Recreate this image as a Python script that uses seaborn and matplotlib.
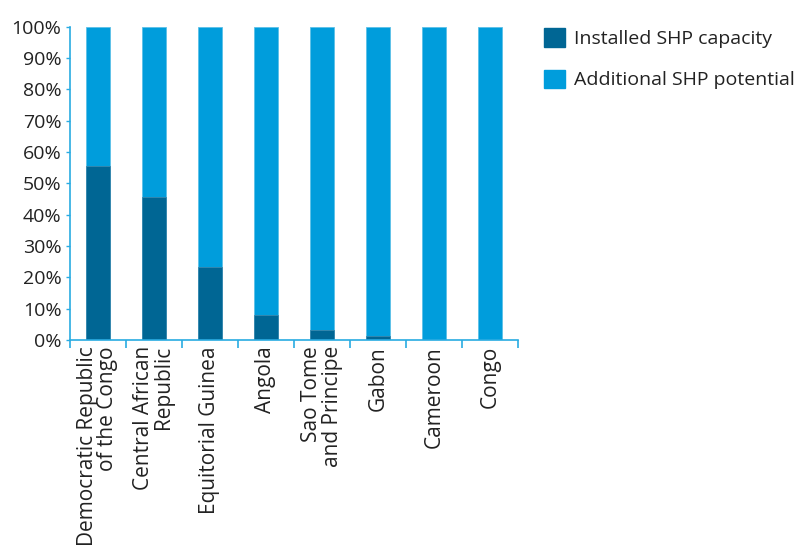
import matplotlib
matplotlib.use("Agg")
import matplotlib.pyplot as plt
import seaborn as sns
import pandas as pd
from matplotlib.patches import Patch
from matplotlib.ticker import PercentFormatter

countries = ["Democratic Republic\nof the Congo", "Central African\nRepublic", "Equitorial Guinea",
             "Angola", "Sao Tome\nand Principe", "Gabon", "Cameroon", "Congo"]
installed = [55.5, 45.7, 23.4, 7.8, 3.2, 1.1, 0.1, 0.1]
additional = [100 - v for v in installed]
series_names = ["Installed SHP capacity", "Additional SHP potential"]
yticks = [0, 10, 20, 30, 40, 50, 60, 70, 80, 90, 100]

dark = "#006694"
light = "#009ddc"
axis_col = "#29abe2"
text_col = "#222222"

sns.set_style("white")
plt.rcParams["font.family"] = ["Open Sans", "DejaVu Sans"]

df = pd.DataFrame({"country": countries, "installed": installed, "additional": additional})
df["total"] = df["installed"] + df["additional"]

fig = plt.figure(figsize=(8.03, 5.49), dpi=100)
ax = fig.add_axes([0.087, 0.381, 0.558, 0.570])

sns.barplot(data=df, x="country", y="total", color=light, saturation=1, width=0.42,
            edgecolor="#5cc0e8", linewidth=0.6, ax=ax)
sns.barplot(data=df, x="country", y="installed", color=dark, saturation=1, width=0.42,
            edgecolor="#3a88ad", linewidth=0.6, ax=ax)

ax.set_xlim(-0.5, len(countries) - 0.5)
ax.set_ylim(0, 100)
ax.set_yticks(yticks)
ax.yaxis.set_major_formatter(PercentFormatter(decimals=0))
ax.set_xlabel("")
ax.set_ylabel("")

for s in ["top", "right"]:
    ax.spines[s].set_visible(False)
for s in ["left", "bottom"]:
    ax.spines[s].set_color(axis_col)
    ax.spines[s].set_linewidth(1.2)

ax.tick_params(axis="y", left=True, length=3, width=1, color=axis_col,
               labelsize=14, labelcolor=text_col, pad=3)
ax.tick_params(axis="x", bottom=False, labelsize=15, labelcolor=text_col, pad=1)
ax.set_xticks(range(len(countries)))
ax.set_xticklabels(countries, rotation=90, ha="center", va="top", multialignment="right",
                   linespacing=0.95)

# minor ticks at category boundaries
ax.set_xticks([i - 0.5 for i in range(len(countries) + 1)], minor=True)
ax.tick_params(axis="x", which="minor", bottom=True, length=6, width=1.2, color=axis_col)

handles = [Patch(facecolor=dark, edgecolor=dark), Patch(facecolor=light, edgecolor=light)]
fig.legend(handles, series_names, loc="upper left", bbox_to_anchor=(0.656, 0.98),
           frameon=False, fontsize=14, handlelength=1.05, handleheight=1.05,
           handletextpad=0.5, labelspacing=1.1, labelcolor=text_col)

fig.savefig("out.png", dpi=100)
